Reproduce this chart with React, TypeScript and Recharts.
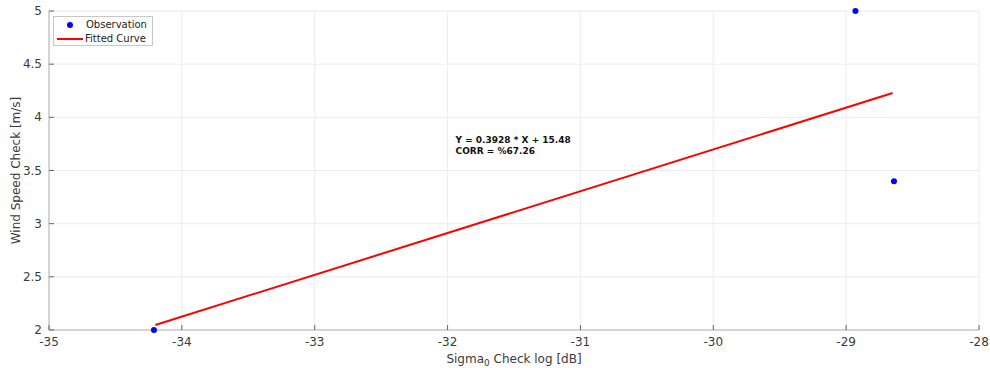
import React from 'react';
import { ScatterChart, Scatter, XAxis, YAxis, CartesianGrid, Legend, ReferenceDot } from 'recharts';

const xTicks = [-35, -34, -33, -32, -31, -30, -29, -28];
const yTicks = [2, 2.5, 3, 3.5, 4, 4.5, 5];

const observations = [
  { x: -34.21, y: 2.0 },
  { x: -28.93, y: 5.0 },
  { x: -28.64, y: 3.4 },
];

const fittedCurve = [
  { x: -34.2, y: 2.047 },
  { x: -28.65, y: 4.229 },
];

const equationText = 'Y = 0.3928 * X + 15.48';
const corrText = 'CORR = %67.26';

const FONT = '"DejaVu Sans", sans-serif';
const TEXT = '#3a3a3a';
const BOX = '#b3b3b3';
const TICK = '#666666';

const BottomTick = (props: any) => {
  const { x, y, payload } = props;
  return (
    <g>
      <line x1={x} y1={y} x2={x} y2={y - 5} stroke={TICK} />
      <text x={x} y={y + 16} textAnchor="middle" fontSize={12} fill={TEXT} fontFamily={FONT}>
        {payload.value}
      </text>
    </g>
  );
};

const TopTick = (props: any) => {
  const { x, y } = props;
  return <line x1={x} y1={y} x2={x} y2={y + 5} stroke={TICK} />;
};

const LeftTick = (props: any) => {
  const { x, y, payload } = props;
  return (
    <g>
      <line x1={x} y1={y} x2={x + 5} y2={y} stroke={TICK} />
      <text x={x - 7} y={y + 4} textAnchor="end" fontSize={12} fill={TEXT} fontFamily={FONT}>
        {payload.value}
      </text>
    </g>
  );
};

const RightTick = (props: any) => {
  const { x, y } = props;
  return <line x1={x} y1={y} x2={x - 5} y2={y} stroke={TICK} />;
};

const LegendBox = () => (
  <div
    style={{
      boxSizing: 'border-box',
      width: 100,
      height: 30,
      border: '1px solid #c8c8c8',
      background: '#fff',
      padding: '1px 0 0 3px',
      fontFamily: FONT,
      fontSize: 10,
      color: '#222',
      lineHeight: '14px',
    }}
  >
    <div style={{ display: 'flex', alignItems: 'center', height: 14 }}>
      <span style={{ width: 26, display: 'inline-flex', justifyContent: 'center' }}>
        <span style={{ width: 6, height: 6, borderRadius: 3, background: '#0000ff' }} />
      </span>
      <span style={{ marginLeft: 3 }}>Observation</span>
    </div>
    <div style={{ display: 'flex', alignItems: 'center', height: 14 }}>
      <span style={{ width: 26, height: 2, background: '#ff0000' }} />
      <span style={{ marginLeft: 2 }}>Fitted Curve</span>
    </div>
  </div>
);

const Annotation = (props: any) => {
  const { viewBox } = props;
  const x = viewBox.x ?? viewBox.cx;
  const y = viewBox.y ?? viewBox.cy;
  return (
    <text x={x} y={y} fontSize={9} fontWeight="bold" fill="#111" fontFamily={FONT}>
      <tspan x={x} dy={0}>{equationText}</tspan>
      <tspan x={x} dy={11}>{corrText}</tspan>
    </text>
  );
};

const XLabel = (props: any) => {
  const { viewBox } = props;
  const cx = viewBox.x + viewBox.width / 2;
  return (
    <text x={cx} y={viewBox.y + 33} textAnchor="middle" fontSize={12} fill={TEXT} fontFamily={FONT}>
      <tspan>Sigma</tspan>
      <tspan fontSize={9} dy={3}>0</tspan>
      <tspan dy={-3}> Check log [dB]</tspan>
    </text>
  );
};

const YLabel = (props: any) => {
  const { viewBox } = props;
  const cy = viewBox.y + viewBox.height / 2;
  return (
    <text
      x={20}
      y={cy}
      textAnchor="middle"
      fontSize={12}
      fill={TEXT}
      fontFamily={FONT}
      transform={`rotate(-90, 20, ${cy})`}
    >
      Wind Speed Check [m/s]
    </text>
  );
};

const App = () => (
  <div style={{ position: 'absolute', left: 0, top: 0, width: 990, height: 368, background: '#fff' }}>
    <ScatterChart width={990} height={368} margin={{ top: 11, right: 11, bottom: 0, left: 0 }}>
      <CartesianGrid stroke="#ececec" />
      <XAxis
        type="number"
        dataKey="x"
        domain={[-35, -28]}
        ticks={xTicks}
        height={38}
        tickSize={0}
        tickMargin={0}
        stroke={BOX}
        tick={<BottomTick />}
        label={<XLabel />}
      />
      <XAxis
        xAxisId="top"
        orientation="top"
        type="number"
        domain={[-35, -28]}
        ticks={xTicks}
        height={0}
        tickSize={0}
        tickMargin={0}
        stroke={BOX}
        tick={<TopTick />}
      />
      <YAxis
        type="number"
        dataKey="y"
        domain={[2, 5]}
        ticks={yTicks}
        width={49}
        tickSize={0}
        tickMargin={0}
        stroke={BOX}
        tick={<LeftTick />}
        label={<YLabel />}
      />
      <YAxis
        yAxisId="right"
        orientation="right"
        type="number"
        domain={[2, 5]}
        ticks={yTicks}
        width={0}
        tickSize={0}
        tickMargin={0}
        stroke={BOX}
        tick={<RightTick />}
      />
      <Legend
        layout="vertical"
        verticalAlign="middle"
        align="center"
        wrapperStyle={{ left: 53, top: 16, width: 'auto', transform: 'none' }}
        content={<LegendBox />}
      />
      <Scatter
        name="Fitted Curve"
        data={fittedCurve}
        line={{ stroke: '#ff0000', strokeWidth: 2 }}
        shape={() => null}
        isAnimationActive={false}
      />
      <Scatter
        name="Observation"
        data={observations}
        fill="#0000ff"
        shape={(p: any) => <circle cx={p.cx} cy={p.cy} r={3} fill="#0000ff" />}
        isAnimationActive={false}
      />
      <ReferenceDot x={-31.94} y={3.76} r={0} fill="none" stroke="none" label={<Annotation />} />
    </ScatterChart>
  </div>
);

export default App;
